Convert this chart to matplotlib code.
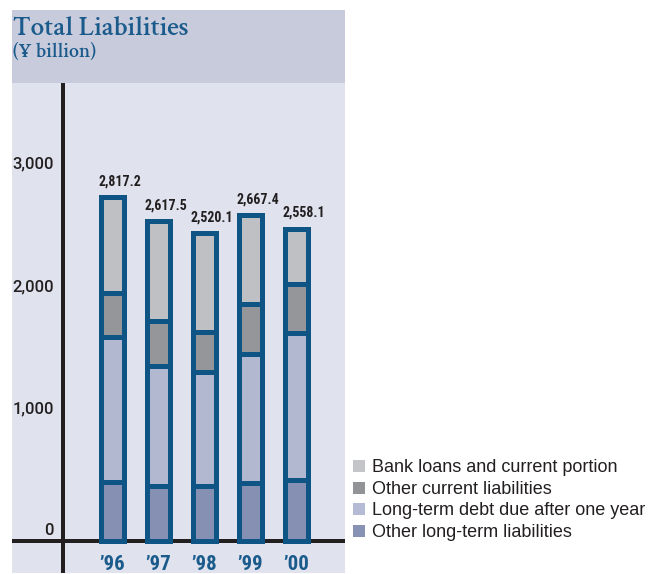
import matplotlib
matplotlib.use("Agg")
import matplotlib.pyplot as plt
from matplotlib.patches import Rectangle
from matplotlib import font_manager as fm
import numpy as np

# ---- data (¥ billion) ----
years = ["\u201996", "\u201997", "\u201998", "\u201999", "\u201900"]
totals = [2817.2, 2617.5, 2520.1, 2667.4, 2558.1]
other_long_term = [485, 455, 455, 480, 499]
long_term_debt = [1189, 982, 933, 1053, 1205]
other_current = [360, 366, 327, 409, 398]
bank_loans = [t - a - b - c for t, a, b, c in
              zip(totals, other_long_term, long_term_debt, other_current)]
series_labels = ["Bank loans and current portion",
                 "Other current liabilities",
                 "Long-term debt due after one year",
                 "Other long-term liabilities"]
y_ticks = [0, 1000, 2000, 3000]

# ---- styling ----
W, H = 649, 574
HEADER = "#c8cbdc"
PANEL = "#e0e3ee"
EDGE = "#0e5586"
INK = "#231f20"
TITLE_BLUE = "#1b5b8c"
seg_colors = {"bank": "#bfc0c3", "oc": "#95969a",
              "ltd": "#b2b8d0", "olt": "#8590b2"}
legend_colors = ["#c4c5c8", "#929396", "#b6bbd5", "#8792b5"]

NARROW = ["Roboto Condensed", "DejaVu Sans"]
SANS = ["Liberation Sans", "DejaVu Sans"]
TICK_SANS = ["Roboto", "Liberation Sans", "DejaVu Sans"]


def pick_serif():
    """First Garamond-style family that ships a bold-ish face."""
    wanted = ["EB Garamond", "Cormorant Garamond", "Crimson Pro",
              "Crimson Text", "Sorts Mill Goudy", "Libre Caslon Text",
              "Libre Baskerville", "Liberation Serif"]
    have = {}
    for f in fm.fontManager.ttflist:
        w = f.weight if isinstance(f.weight, int) else 400
        if f.style == "normal":
            have.setdefault(f.name, set()).add(w)
    for name in wanted:
        ws = have.get(name, set())
        good = [w for w in ws if w >= 600]
        if good:
            return name, min(good)
    return "DejaVu Serif", 700


SERIF, SERIF_W = pick_serif()


def fx(px):
    return px / W


def fy(py):
    return 1 - py / H


fig = plt.figure(figsize=(W / 100, H / 100), dpi=100)
fig.patch.set_facecolor("white")

# header band
fig.patches.append(Rectangle((fx(12), fy(83)), fx(345) - fx(12), fy(10) - fy(83),
                             transform=fig.transFigure, facecolor=HEADER,
                             edgecolor="none", zorder=0))
fig.text(fx(13), fy(34.5), "Total Liabilities", family=SERIF, weight=SERIF_W,
         fontsize=19.5, color=TITLE_BLUE, va="baseline", ha="left")
fig.text(fx(13), fy(57), "(\u00a5 billion)", family=SERIF, weight=SERIF_W,
         fontsize=14.5, color=TITLE_BLUE, va="baseline", ha="left")

# plot panel
ax = fig.add_axes([fx(12), fy(573), fx(345) - fx(12), fy(83) - fy(573)])
ax.set_facecolor(PANEL)
for s in ax.spines.values():
    s.set_visible(False)
ax.set_xticks([])
ax.set_yticks([])

px_per_unit = 0.1222  # pixels per ¥ billion
x0_px, step_px = 112.5, 46.0
ax.set_xlim((12 - x0_px) / step_px, (345 - x0_px) / step_px)
ax.set_ylim(-(573 - 541.3) / px_per_unit, (541.3 - 83) / px_per_unit)

x = np.arange(len(years))
lw = 5 * 72 / 100
bottom = np.zeros(len(years))
for vals, key in [(other_long_term, "olt"), (long_term_debt, "ltd"),
                  (other_current, "oc"), (bank_loans, "bank")]:
    ax.bar(x, vals, bottom=bottom, width=0.5, color=seg_colors[key],
           edgecolor=EDGE, linewidth=lw, zorder=3)
    bottom += np.array(vals)

# axis lines
ax.axhline(0, color=INK, lw=4 * 72 / 100, zorder=2)
ax.axvline((63 - x0_px) / step_px, color=INK, lw=4 * 72 / 100, zorder=2)

# y labels
ylab_x = (54 - x0_px) / step_px
for v in y_ticks:
    ax.text(ylab_x, v + 6 / px_per_unit, f"{v:,}", family=TICK_SANS,
            weight="medium", fontsize=12, color=INK, ha="right", va="baseline")

# value labels
for xi, t in zip(x, totals):
    ax.annotate(f"{t:,.1f}", (xi, t), xytext=(5.4, 8.5), textcoords="offset points",
                family=NARROW, weight="bold", fontsize=10, color=INK,
                ha="center", va="baseline")

# year labels
for xi, yr in zip(x, years):
    ax.text(xi, -(565 - 541.3) / px_per_unit, yr, family=NARROW, weight="bold",
            fontsize=15, color=TITLE_BLUE, ha="center", va="center")

# legend
for i, (lab, col) in enumerate(zip(series_labels, legend_colors)):
    base = 472 + i * 21.7
    fig.patches.append(Rectangle((fx(353), fy(base)), fx(365) - fx(353),
                                 fy(base - 12) - fy(base),
                                 transform=fig.transFigure, facecolor=col,
                                 edgecolor="none"))
    fig.text(fx(372), fy(base), lab, family=SANS, fontsize=13, color=INK,
             ha="left", va="baseline")

fig.savefig("out.png", dpi=100)
